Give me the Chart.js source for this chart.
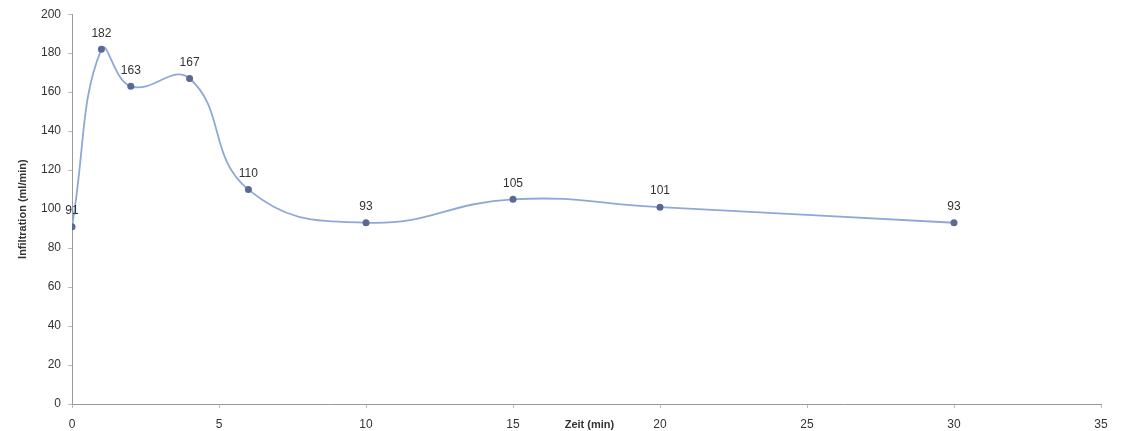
<!DOCTYPE html>
<html>
<head>
<meta charset="utf-8">
<script src="https://cdn.jsdelivr.net/npm/chart.js@4/dist/chart.umd.min.js"></script>
<style>
  html, body { margin: 0; padding: 0; background: #ffffff; }
  #wrap { width: 1126px; height: 431px; position: relative; }
</style>
</head>
<body>
<div id="wrap"><canvas id="c" width="1126" height="431"></canvas></div>
<script>
// Zeit in Minuten und gemessene Infiltration (ml/min)
const zeit = [0, 1, 2, 4, 6, 10, 15, 20, 30];
const infiltration = [91, 182, 163, 167, 110, 93, 105, 101, 93];
const xTicks = [0, 5, 10, 15, 20, 25, 30, 35];
const yTicks = [0, 20, 40, 60, 80, 100, 120, 140, 160, 180, 200];

const points = zeit.map((x, i) => ({ x: x, y: infiltration[i] }));

// Wertebeschriftung über jedem Messpunkt
const valueLabels = {
  id: 'valueLabels',
  afterDatasetsDraw(chart) {
    const ctx = chart.ctx;
    const meta = chart.getDatasetMeta(0);
    ctx.save();
    ctx.font = '12px "Liberation Sans", Arial, sans-serif';
    ctx.fillStyle = '#333333';
    ctx.textAlign = 'center';
    ctx.textBaseline = 'bottom';
    meta.data.forEach((el, i) => {
      ctx.fillText(String(infiltration[i]), el.x, el.y - 10);
    });
    ctx.restore();
  }
};

// Achsentitel der x-Achse auf Höhe der Tick-Beschriftung
const xTitle = {
  id: 'xTitle',
  afterDraw(chart) {
    const ctx = chart.ctx;
    const xs = chart.scales.x;
    ctx.save();
    ctx.font = 'bold 11px "Liberation Sans", Arial, sans-serif';
    ctx.fillStyle = '#333333';
    ctx.textAlign = 'center';
    ctx.textBaseline = 'middle';
    ctx.fillText('Zeit (min)', xs.getPixelForValue(17.6), xs.top + 21);
    ctx.restore();
  }
};

new Chart(document.getElementById('c'), {
  type: 'scatter',
  data: {
    datasets: [{
      data: points,
      showLine: true,
      borderColor: '#8fa9d6',
      borderWidth: 1.8,
      tension: 0.45,
      pointRadius: 3.5,
      pointBackgroundColor: '#5a6894',
      pointBorderColor: '#5a6894',
      pointBorderWidth: 0
    }]
  },
  options: {
    responsive: false,
    animation: false,
    layout: { padding: { left: 16, right: 25, top: 10, bottom: 0 } },
    plugins: {
      legend: { display: false },
      tooltip: { enabled: false }
    },
    scales: {
      x: {
        type: 'linear',
        min: 0, max: 35,
        afterBuildTicks: s => { s.ticks = xTicks.map(v => ({ value: v })); },
        grid: { drawOnChartArea: false, color: '#9a9a9a', tickLength: 4, tickColor: '#bdbdbd' },
        border: { color: '#9a9a9a', width: 1 },
        ticks: { color: '#333333', font: { size: 12, family: '"Liberation Sans", Arial, sans-serif' }, padding: 9, maxRotation: 0 },
        afterFit: s => { s.height = 27; }
      },
      y: {
        type: 'linear',
        min: 0, max: 200,
        afterBuildTicks: s => { s.ticks = yTicks.map(v => ({ value: v })); },
        grid: { drawOnChartArea: false, color: '#9a9a9a', tickLength: 4, tickColor: '#bdbdbd' },
        border: { color: '#9a9a9a', width: 1 },
        ticks: { color: '#333333', font: { size: 12, family: '"Liberation Sans", Arial, sans-serif' }, padding: 7 },
        title: {
          display: true,
          text: 'Infiltration (ml/min)',
          color: '#333333',
          font: { size: 11, weight: 'bold', family: '"Liberation Sans", Arial, sans-serif' },
          padding: { top: 0, bottom: 4 }
        },
        afterFit: s => { s.width = 56; }
      }
    }
  },
  plugins: [valueLabels, xTitle]
});
</script>
</body>
</html>
